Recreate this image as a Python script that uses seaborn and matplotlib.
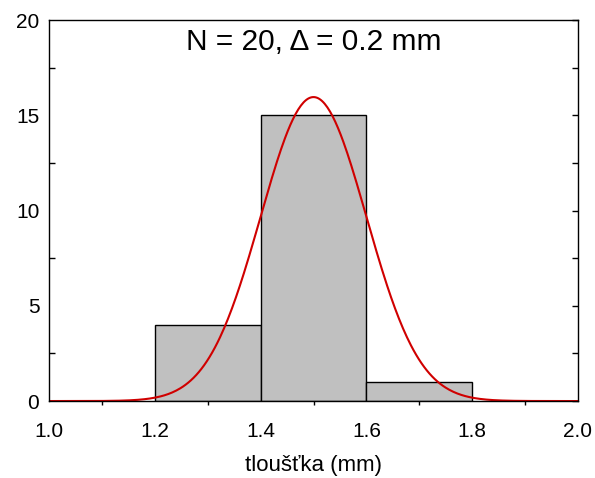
import numpy as np
import pandas as pd
import matplotlib
matplotlib.use("Agg")
import matplotlib.pyplot as plt
from matplotlib.ticker import MultipleLocator, FormatStrFormatter
import seaborn as sns

# histogram data
bin_edges = [1.2, 1.4, 1.6, 1.8]
counts = [4, 15, 1]
n_total = 20
delta = 0.2
# fitted normal curve parameters
mu = 1.5
sigma = 0.1

sns.set_style("white")
plt.rcParams["font.family"] = ["Liberation Sans", "DejaVu Sans"]
plt.rcParams["text.color"] = "black"
plt.rcParams["axes.labelcolor"] = "black"
plt.rcParams["xtick.color"] = "black"
plt.rcParams["ytick.color"] = "black"

fig = plt.figure(figsize=(5.95, 4.78), dpi=100)
ax = fig.add_axes([0.0824, 0.161, 0.889, 0.797])

centers = [(a + b) / 2 for a, b in zip(bin_edges[:-1], bin_edges[1:])]
hist_df = pd.DataFrame({"x": centers, "n": counts})
sns.histplot(data=hist_df, x="x", weights="n", bins=bin_edges, ax=ax,
             color="#c0c0c0", edgecolor="black", linewidth=1.0, alpha=1.0)

xs = np.linspace(1.0, 2.0, 400)
ys = n_total * delta / (sigma * np.sqrt(2 * np.pi)) * np.exp(-0.5 * ((xs - mu) / sigma) ** 2)
sns.lineplot(x=xs, y=ys, ax=ax, color="#d00000", linewidth=1.5)

ax.set_xlim(1.0, 2.0)
ax.set_ylim(0, 20)
ax.xaxis.set_major_locator(MultipleLocator(0.2))
ax.xaxis.set_minor_locator(MultipleLocator(0.1))
ax.yaxis.set_major_locator(MultipleLocator(5))
ax.yaxis.set_minor_locator(MultipleLocator(2.5))
ax.xaxis.set_major_formatter(FormatStrFormatter("%.1f"))

ax.tick_params(axis="x", which="major", length=0, labelsize=15, pad=15)
ax.tick_params(axis="x", which="minor", bottom=True, direction="out", length=3, width=1, color="black")
ax.tick_params(axis="y", which="major", left=True, length=0, labelsize=15, pad=7)
ax.tick_params(axis="y", which="minor", left=True, direction="in", length=4, width=1, color="black")

sec = ax.secondary_yaxis("right")
sec.yaxis.set_major_locator(MultipleLocator(5))
sec.yaxis.set_minor_locator(MultipleLocator(2.5))
sec.tick_params(which="both", direction="in", length=4, width=1, color="black", labelright=False)
sec.spines["right"].set_visible(False)

for s in ax.spines.values():
    s.set_visible(True)
    s.set_color("black")
    s.set_linewidth(1.0)

ax.set_xlabel("tloušťka (mm)", fontsize=16, labelpad=10)
ax.set_ylabel("")
ax.text(0.5, 0.942, "N = 20, \u0394 = 0.2 mm", transform=ax.transAxes,
        ha="center", va="center", fontsize=21.5)

fig.savefig("out.png", dpi=100)
